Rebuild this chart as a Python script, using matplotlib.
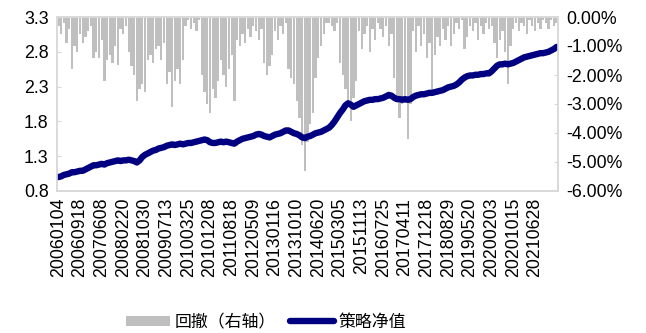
import matplotlib
matplotlib.use("Agg")
import matplotlib.pyplot as plt
from matplotlib.patches import Patch
from matplotlib.lines import Line2D
from matplotlib.ticker import FuncFormatter, FixedLocator
import numpy as np

# Strategy net value (left axis), sampled on a regular trading-day grid
nav = [
    1.00, 1.01, 1.03, 1.04, 1.05,
    1.07, 1.07, 1.08, 1.09, 1.09,
    1.11, 1.13, 1.15, 1.17, 1.17,
    1.18, 1.19, 1.18, 1.20, 1.21,
    1.22, 1.23, 1.24, 1.23, 1.24,
    1.24, 1.25, 1.24, 1.23, 1.21,
    1.24, 1.29, 1.32, 1.34, 1.36,
    1.38, 1.39, 1.41, 1.42, 1.43,
    1.45, 1.46, 1.47, 1.46, 1.47,
    1.48, 1.47, 1.48, 1.49, 1.49,
    1.50, 1.51, 1.52, 1.53, 1.54,
    1.53, 1.50, 1.49, 1.49, 1.50,
    1.51, 1.50, 1.51, 1.50, 1.49,
    1.48, 1.51, 1.53, 1.55, 1.56,
    1.57, 1.58, 1.59, 1.61, 1.62,
    1.61, 1.59, 1.58, 1.57, 1.59,
    1.61, 1.62, 1.63, 1.65, 1.67,
    1.67, 1.65, 1.63, 1.62, 1.60,
    1.57, 1.56, 1.58, 1.59, 1.61,
    1.63, 1.64, 1.65, 1.67, 1.69,
    1.71, 1.75, 1.80, 1.86, 1.92,
    1.97, 2.03, 2.06, 2.04, 2.01,
    2.03, 2.05, 2.07, 2.09, 2.10,
    2.11, 2.11, 2.12, 2.12, 2.13,
    2.14, 2.16, 2.18, 2.17, 2.14,
    2.12, 2.12, 2.11, 2.12, 2.11,
    2.12, 2.15, 2.17, 2.18, 2.19,
    2.19, 2.20, 2.21, 2.21, 2.22,
    2.23, 2.24, 2.25, 2.27, 2.29,
    2.30, 2.31, 2.33, 2.36, 2.40,
    2.43, 2.45, 2.46, 2.46, 2.47,
    2.47, 2.48, 2.48, 2.49, 2.49,
    2.52, 2.56, 2.60, 2.62, 2.62,
    2.63, 2.62, 2.63, 2.64, 2.66,
    2.68, 2.70, 2.72, 2.73, 2.74,
    2.75, 2.76, 2.77, 2.78, 2.78,
    2.79, 2.80, 2.82, 2.84, 2.87,
]

# Drawdown in percent (right axis), same grid
drawdown = [
    -0.3, -0.6, -0.2, -0.9, -0.4,
    -1.8, -1.0, -1.2, -0.6, -0.9,
    -0.7, -0.5, -0.3, -1.4, -1.2,
    -1.4, -0.8, -2.2, -1.5, -1.3,
    -1.6, -1.0, -1.65, -0.4, -0.6,
    -0.3, -1.2, -1.7, -2.0, -2.9,
    -2.5, -2.3, -2.6, -1.5, -1.3,
    -1.6, -1.1, -1.0, -1.5, -0.9,
    -2.3, -1.9, -3.1, -2.2, -1.8,
    -2.3, -1.5, -0.3, -0.1, -0.4,
    -0.2, -0.5, -0.1, -2.0, -2.6,
    -3.0, -3.3, -2.5, -2.8, -2.2,
    -1.5, -2.0, -2.4, -1.8, -1.3,
    -2.9, -0.8, -1.0, -0.6, -0.9,
    -0.4, -0.7, -0.3, -0.5, -0.8,
    -0.4, -1.6, -2.0, -1.7, -1.3,
    -0.5, -0.8, -0.3, -0.6, -0.2,
    -1.8, -2.1, -2.3, -2.9, -3.5,
    -4.4, -5.3, -4.3, -3.7, -3.3,
    -2.1, -1.4, -1.0, -0.6, -0.2,
    -0.2, -0.3, -0.5, -0.2, -1.6,
    -2.0, -2.5, -2.9, -3.6, -2.8,
    -2.2, -0.5, -1.1, -0.6, -0.3,
    -1.2, -0.4, -0.8, -0.2, -0.4,
    -0.7, -0.3, -1.0, -0.6, -2.1,
    -2.8, -3.5, -3.0, -2.9, -4.2,
    -3.0, -0.5, -1.2, -0.3, -1.0,
    -0.6, -1.4, -0.9, -2.6, -1.3,
    -0.7, -1.0, -0.4, -0.8, -0.3,
    -1.0, -0.6, -0.2, -0.4, -0.1,
    -1.1, -0.7, -0.3, -0.5, -0.2,
    -0.8, -0.3, -0.6, -0.2, -0.4,
    -0.3, -0.9, -1.4, -0.8, -0.5,
    -1.2, -2.3, -1.0, -0.4, -0.2,
    -0.5, -0.2, -0.3, -0.6, -0.1,
    -0.3, -0.5, -0.2, -0.4, -0.1,
    -0.2, -0.4, -0.1, -0.3, -0.2,
]

date_labels = [
    "20060104", "20060918", "20070608", "20080220", "20081030",
    "20090713", "20100325", "20101208", "20110818", "20120509",
    "20130116", "20131010", "20140620", "20150305", "20151113",
    "20160725", "20170411", "20171218", "20180829", "20190520",
    "20200203", "20201015", "20210628",
]
label_step = 8  # samples between consecutive date labels

legend_labels = ["回撤（右轴）", "策略净值"]

assert len(nav) == len(drawdown)
x = np.arange(len(nav))

num_font = "Liberation Sans"
cjk_font = ["Noto Sans CJK SC", "DejaVu Sans"]
frame_color = "#D9D9D9"
bar_color = "#BFBFBF"
line_color = "#000080"
fs = 12.8

fig = plt.figure(figsize=(6.46, 3.33), dpi=100)
ax = fig.add_axes([57 / 646, 1 - 191 / 333, (558 - 57) / 646, (191 - 17) / 333])
ax2 = ax.twinx()

# drawdown bars on the right axis, hanging from 0%
ax2.bar(x, drawdown, width=0.85, color=bar_color, linewidth=0)
ax2.set_ylim(-6, 0)
ax2.yaxis.set_major_locator(FixedLocator(np.arange(-6, 0.5, 1)))
ax2.yaxis.set_major_formatter(FuncFormatter(lambda v, p: f"{v:.2f}%"))

# net value line on the left axis, drawn above the bars
ax.plot(x, nav, color=line_color, linewidth=4.6, solid_capstyle="round",
        solid_joinstyle="round")
ax.set_ylim(0.8, 3.3)
ax.yaxis.set_major_locator(FixedLocator(np.arange(0.8, 3.31, 0.5)))
ax.yaxis.set_major_formatter(FuncFormatter(lambda v, p: f"{v:.1f}"))
ax.set_zorder(ax2.get_zorder() + 1)
ax.patch.set_visible(False)

ax.set_xlim(-0.5, len(nav) - 0.5)
tick_pos = np.arange(len(date_labels)) * label_step
ax.set_xticks(tick_pos)
ax.set_xticklabels(date_labels, rotation=90, fontsize=fs, family=num_font)
ax.tick_params(axis="x", length=0, pad=5)

for a in (ax, ax2):
    for s in a.spines.values():
        s.set_color(frame_color)
        s.set_linewidth(1.2)
ax.tick_params(axis="y", direction="in", length=3, color=frame_color,
               labelsize=fs, pad=6)
ax2.tick_params(axis="y", direction="in", length=3, color=frame_color,
                labelsize=fs, pad=6)
for t in ax.get_yticklabels() + ax2.get_yticklabels():
    t.set_family(num_font)

handles = [
    Patch(facecolor=bar_color, edgecolor="none"),
    Line2D([0], [0], color=line_color, linewidth=4.6, solid_capstyle="round"),
]
fig.legend(handles, legend_labels, loc="center", bbox_to_anchor=(266 / 646, 1 - 322 / 333),
           ncol=2, frameon=False, prop={"family": cjk_font, "size": 12.2},
           handlelength=2.6, handleheight=0.55, handletextpad=0.3,
           columnspacing=0.8)

fig.savefig("out.png", dpi=100)
